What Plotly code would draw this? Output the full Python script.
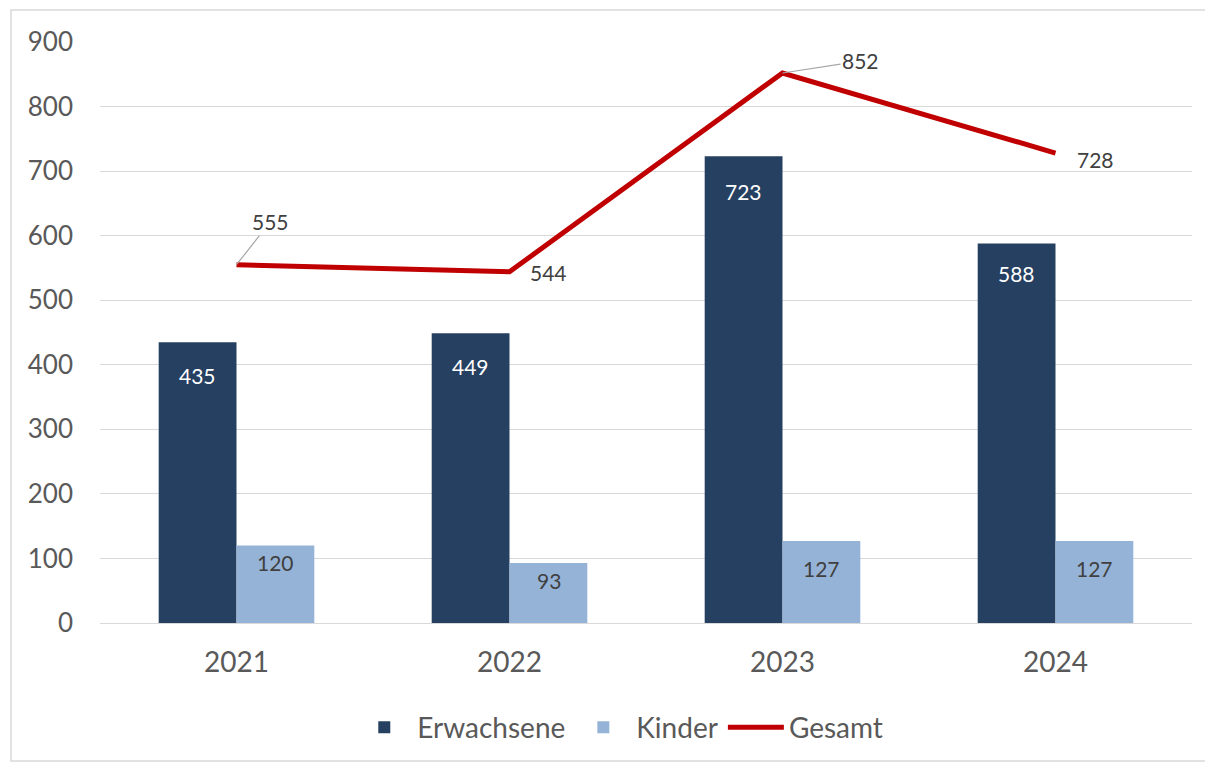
import plotly.graph_objects as go

years = ["2021", "2022", "2023", "2024"]
erwachsene = [435, 449, 723, 588]
kinder = [120, 93, 127, 127]
gesamt = [555, 544, 852, 728]

FONT = "Lato"
GRAY = "#595959"
LABEL = "#404040"

fig = go.Figure()
fig.add_trace(go.Bar(
    x=years, y=erwachsene, name="Erwachsene",
    marker=dict(color="#264061", line=dict(width=0)),
))
fig.add_trace(go.Bar(
    x=years, y=kinder, name="Kinder",
    marker=dict(color="#95B3D7", line=dict(width=0)),
))
fig.add_trace(go.Scatter(
    x=years, y=gesamt, name="Gesamt", mode="lines",
    line=dict(color="#C00000", width=5),
))

# bar data labels ("inside end", offsets below the bar top in px)
HALF_BAR_PX = 39
dark_drop = [33, 33, 35, 30]
light_drop = [17, 18, 27, 27]
for i, (v, d) in enumerate(zip(erwachsene, dark_drop)):
    fig.add_annotation(x=i, y=v, xref="x", yref="y", text=str(v), showarrow=False,
                       xshift=-HALF_BAR_PX, yshift=-d, yanchor="middle",
                       font=dict(size=21, color="white", family=FONT))
for i, (v, d) in enumerate(zip(kinder, light_drop)):
    fig.add_annotation(x=i, y=v, xref="x", yref="y", text=str(v), showarrow=False,
                       xshift=HALF_BAR_PX, yshift=-d, yanchor="middle",
                       font=dict(size=21, color=LABEL, family=FONT))

# data labels for the total line (category index positions)
offsets = [(34, -43, True, 0), (39, 0, False, -1), (78, -12, True, 0), (40, 0, False, -6)]
for i, (val, (ax, ay, arrow, ys)) in enumerate(zip(gesamt, offsets)):
    fig.add_annotation(
        x=i, y=val, xref="x", yref="y", text=str(val), showarrow=arrow,
        ax=ax, ay=ay, arrowhead=0, arrowwidth=1.2, arrowcolor="#A6A6A6",
        xshift=0 if arrow else ax, yshift=ys,
        font=dict(size=21, color=LABEL, family=FONT),
    )

# chart border
fig.add_shape(type="rect", xref="paper", yref="paper",
              x0=-0.0815, x1=1.0165, y0=-0.2375, y1=1.055,
              line=dict(color="#D9D9D9", width=1.5), fillcolor="rgba(0,0,0,0)")

fig.update_layout(
    width=1205, height=754,
    margin=dict(l=92, r=21, t=34, b=139, autoexpand=False),
    paper_bgcolor="white", plot_bgcolor="white",
    barmode="group", bargap=0.43, bargroupgap=0,
    font=dict(family=FONT, color=GRAY),
    showlegend=True,
    legend=dict(orientation="h", x=0.476, xanchor="center", y=-0.18, yanchor="middle",
                font=dict(size=28, color=GRAY, family=FONT), traceorder="normal",
                itemwidth=56),
    xaxis=dict(type="category", range=[-0.5, len(years) - 0.5], showgrid=False,
               showline=False, ticks="", ticklabelstandoff=20,
               tickfont=dict(size=28, color=GRAY, family=FONT)),
    yaxis=dict(range=[0, 900], dtick=100, showgrid=True, gridcolor="#D9D9D9",
               gridwidth=1, zeroline=True, zerolinecolor="#D9D9D9", zerolinewidth=1,
               showline=False, ticks="", ticklabelstandoff=26,
               tickfont=dict(size=26, color=GRAY, family=FONT)),
)

fig.write_html("out.html")
